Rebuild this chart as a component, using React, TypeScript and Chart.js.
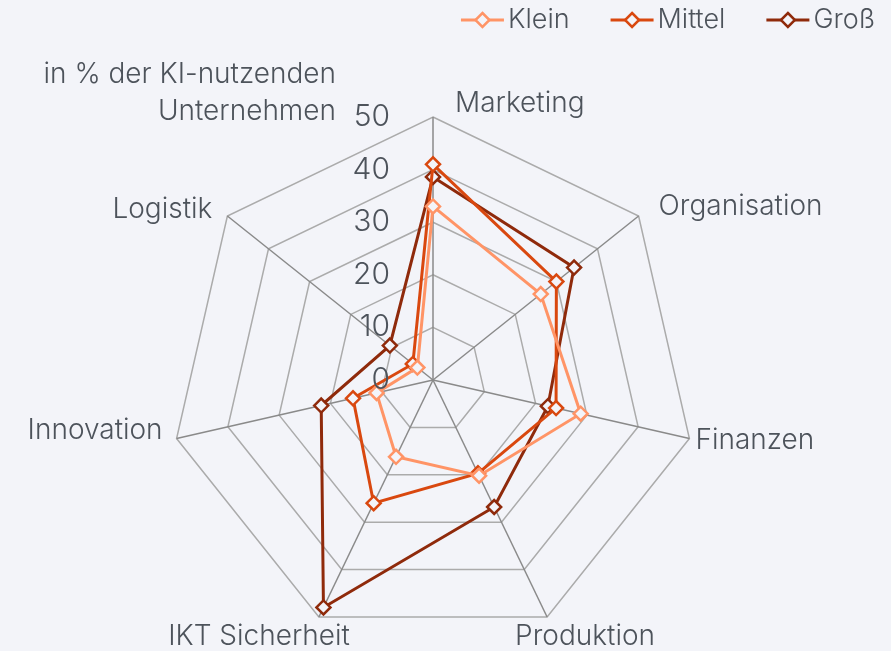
import React, { useEffect, useRef } from "react";
import { Chart, registerables } from "chart.js";
Chart.register(...registerables);

const categories = ["Marketing", "Organisation", "Finanzen", "Produktion", "IKT Sicherheit", "Innovation", "Logistik"];
const seriesNames = ["Klein", "Mittel", "Groß"];
const klein = [33, 26.2, 28.8, 20.2, 16.2, 11, 3.8];
const mittel = [41, 30, 24, 19.7, 26, 15.6, 4.9];
const gross = [38.6, 34.3, 22.4, 26.8, 48, 21.8, 10.5];
const tickValues = [0, 10, 20, 30, 40, 50];
const titleLines = ["in % der KI-nutzenden", "Unternehmen"];

const COLORS = ["#ff9466", "#d9480f", "#8f2a0b"];
const BG = "#f3f4f9";
const TEXT = "#4d535b";
const FONT = "Inter, 'Noto Sans', sans-serif";

const labelOffsets = [
  { align: "left", dx: 22, dy: -13 },
  { align: "left", dx: 20, dy: -9 },
  { align: "left", dx: 6, dy: 2 },
  { align: "left", dx: -32, dy: 20 },
  { align: "right", dx: 31, dy: 20 },
  { align: "right", dx: -14, dy: -8 },
  { align: "right", dx: -15, dy: -6 },
];

function drawDiamond(ctx: CanvasRenderingContext2D, x: number, y: number, r: number, color: string) {
  ctx.beginPath();
  ctx.moveTo(x, y - r);
  ctx.lineTo(x + r, y);
  ctx.lineTo(x, y + r);
  ctx.lineTo(x - r, y);
  ctx.closePath();
  ctx.fillStyle = BG;
  ctx.fill();
  ctx.lineWidth = 2.5;
  ctx.strokeStyle = color;
  ctx.stroke();
}

const textPlugin = {
  id: "textPlugin",
  afterDraw(chart: any) {
    const ctx: CanvasRenderingContext2D = chart.ctx;
    const r = chart.scales.r;
    ctx.save();
    ctx.fillStyle = TEXT;
    ctx.textBaseline = "middle";
    // tick labels
    ctx.font = `300 30px ${FONT}`;
    ctx.textAlign = "right";
    tickValues.forEach((v) => {
      const d = r.getDistanceFromCenterForValue(v);
      ctx.fillText(String(v), r.xCenter - 43, r.yCenter - d);
    });
    // point labels
    ctx.font = `300 28px ${FONT}`;
    categories.forEach((c, i) => {
      const p = r.getPointPosition(i, r.drawingArea);
      const o = labelOffsets[i];
      ctx.textAlign = o.align as CanvasTextAlign;
      ctx.fillText(c, p.x + o.dx, p.y + o.dy);
    });
    // title
    ctx.textAlign = "right";
    ctx.fillText(titleLines[0], 336, 75);
    ctx.fillText(titleLines[1], 336, 112);
    // legend
    ctx.font = `300 27px ${FONT}`;
    const lineLen = 43;
    const gapText = 4;
    const gapItem = 41;
    const widths = seriesNames.map((n) => ctx.measureText(n).width);
    let total = 0;
    widths.forEach((w, i) => {
      total += lineLen + gapText + w + (i < widths.length - 1 ? gapItem : 0);
    });
    let x = 875 - total;
    const y = 20;
    seriesNames.forEach((n, i) => {
      ctx.strokeStyle = COLORS[i];
      ctx.lineWidth = 3;
      ctx.beginPath();
      ctx.moveTo(x, y);
      ctx.lineTo(x + lineLen, y);
      ctx.stroke();
      drawDiamond(ctx, x + lineLen / 2, y, 7, COLORS[i]);
      ctx.fillStyle = TEXT;
      ctx.textAlign = "left";
      ctx.fillText(n, x + lineLen + gapText, y);
      x += lineLen + gapText + widths[i] + gapItem;
    });
    ctx.restore();
  },
};

export default function App() {
  const ref = useRef<HTMLCanvasElement | null>(null);
  useEffect(() => {
    if (!ref.current) return;
    const series = [klein, mittel, gross];
    const chart = new Chart(ref.current, {
      type: "radar",
      data: {
        labels: categories,
        datasets: series.map((d, i) => ({
          label: seriesNames[i],
          data: d,
          borderColor: COLORS[i],
          backgroundColor: "transparent",
          borderWidth: 3,
          fill: false,
          pointStyle: "rectRot",
          pointRadius: 7,
          pointBorderWidth: 2.5,
          pointBorderColor: COLORS[i],
          pointBackgroundColor: BG,
        })),
      },
      options: {
        animation: false,
        responsive: false,
        maintainAspectRatio: false,
        layout: { padding: { left: 170, right: 195, top: 117, bottom: 8 } },
        plugins: { legend: { display: false }, tooltip: { enabled: false }, title: { display: false } },
        scales: {
          r: {
            min: 0,
            max: 50,
            ticks: { display: false, stepSize: 10 },
            pointLabels: { display: false },
            grid: { color: "#ababab", lineWidth: 1.5 },
            angleLines: { color: "#8a8a8a", lineWidth: 1.5 },
          },
        },
      },
      plugins: [textPlugin],
    });
    return () => chart.destroy();
  }, []);
  return (
    <div style={{ position: "fixed", left: 0, top: 0, width: 891, height: 651, background: BG }}>
      <canvas ref={ref} width={891} height={651} style={{ width: 891, height: 651, display: "block" }} />
    </div>
  );
}
